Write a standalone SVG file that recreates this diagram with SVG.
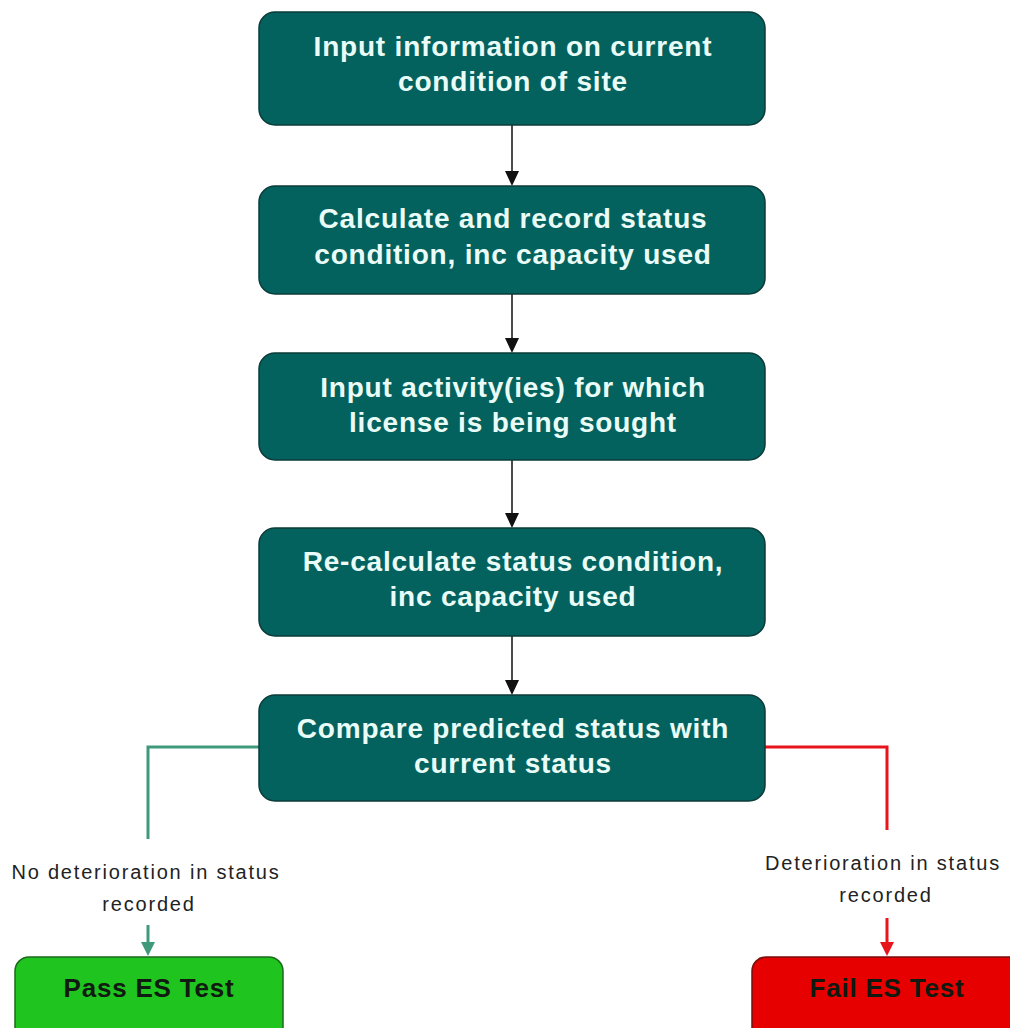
<svg xmlns="http://www.w3.org/2000/svg" width="1010" height="1028" viewBox="0 0 1010 1028">
  <style>
    .step { fill: #04625e; stroke: #0b3b39; stroke-width: 1.5; }
    .step-text { font-family: "Liberation Sans", Arial, sans-serif; font-weight: bold; font-size: 28px; letter-spacing: 0.8px; fill: #eafcf8; text-anchor: middle; }
    .end-text { font-family: "Liberation Sans", Arial, sans-serif; font-weight: bold; font-size: 26px; letter-spacing: 0.8px; fill: #101a10; text-anchor: middle; }
    .label { font-family: "Liberation Sans", Arial, sans-serif; font-size: 20px; letter-spacing: 1.8px; fill: #222; text-anchor: middle; }
    .flow { fill: none; stroke: #111; stroke-width: 1.5; }
    .pass { fill: none; stroke: #3f9a7c; stroke-width: 3; }
    .fail { fill: none; stroke: #e8141c; stroke-width: 3; }
  </style>
  <rect width="1010" height="1028" fill="#ffffff"/>

  <g id="connectors">
    <line class="flow" x1="512" y1="125" x2="512" y2="172"/>
    <path d="M505,171 L519,171 L512,186 z" fill="#111"/>
    <line class="flow" x1="512" y1="294" x2="512" y2="339"/>
    <path d="M505,338 L519,338 L512,353 z" fill="#111"/>
    <line class="flow" x1="512" y1="460" x2="512" y2="514"/>
    <path d="M505,513 L519,513 L512,528 z" fill="#111"/>
    <line class="flow" x1="512" y1="636" x2="512" y2="681"/>
    <path d="M505,680 L519,680 L512,695 z" fill="#111"/>

    <!-- no deterioration branch -->
    <path class="pass" d="M259,747 H148 V839"/>
    <line class="pass" x1="148" y1="925" x2="148" y2="944"/>
    <path d="M141,942 L155,942 L148,956 z" fill="#3f9a7c"/>

    <!-- deterioration branch -->
    <path class="fail" d="M765,747 H887 V830"/>
    <line class="fail" x1="887" y1="918" x2="887" y2="944"/>
    <path d="M880,942 L894,942 L887,956 z" fill="#e8141c"/>

    <text class="label" x="146" y="879">No deterioration in status</text>
    <text class="label" x="149" y="911">recorded</text>
    <text class="label" x="883" y="870">Deterioration in status</text>
    <text class="label" x="886" y="902">recorded</text>
  </g>

  <g id="node-input-site">
    <rect class="step" x="259" y="12" width="506" height="113" rx="16"/>
    <text class="step-text" x="513" y="56">Input information on current</text>
    <text class="step-text" x="513" y="91">condition of site</text>
  </g>

  <g id="node-calculate">
    <rect class="step" x="259" y="186" width="506" height="108" rx="16"/>
    <text class="step-text" x="513" y="228">Calculate and record status</text>
    <text class="step-text" x="513" y="264">condition, inc capacity used</text>
  </g>

  <g id="node-activities">
    <rect class="step" x="259" y="353" width="506" height="107" rx="16"/>
    <text class="step-text" x="513" y="397">Input activity(ies) for which</text>
    <text class="step-text" x="513" y="432">license is being sought</text>
  </g>

  <g id="node-recalculate">
    <rect class="step" x="259" y="528" width="506" height="108" rx="16"/>
    <text class="step-text" x="513" y="571">Re-calculate status condition,</text>
    <text class="step-text" x="513" y="606">inc capacity used</text>
  </g>

  <g id="node-compare">
    <rect class="step" x="259" y="695" width="506" height="106" rx="16"/>
    <text class="step-text" x="513" y="738">Compare predicted status with</text>
    <text class="step-text" x="513" y="773">current status</text>
  </g>

  <g id="node-pass">
    <rect x="15" y="957" width="268" height="90" rx="14" fill="#1fc41f" stroke="#1c6a1c" stroke-width="1.5"/>
    <text class="end-text" x="149" y="997">Pass ES Test</text>
  </g>

  <g id="node-fail">
    <rect x="752" y="957" width="280" height="90" rx="14" fill="#e60000" stroke="#7a0d0d" stroke-width="1.5"/>
    <text class="end-text" x="887" y="997">Fail ES Test</text>
  </g>
</svg>
